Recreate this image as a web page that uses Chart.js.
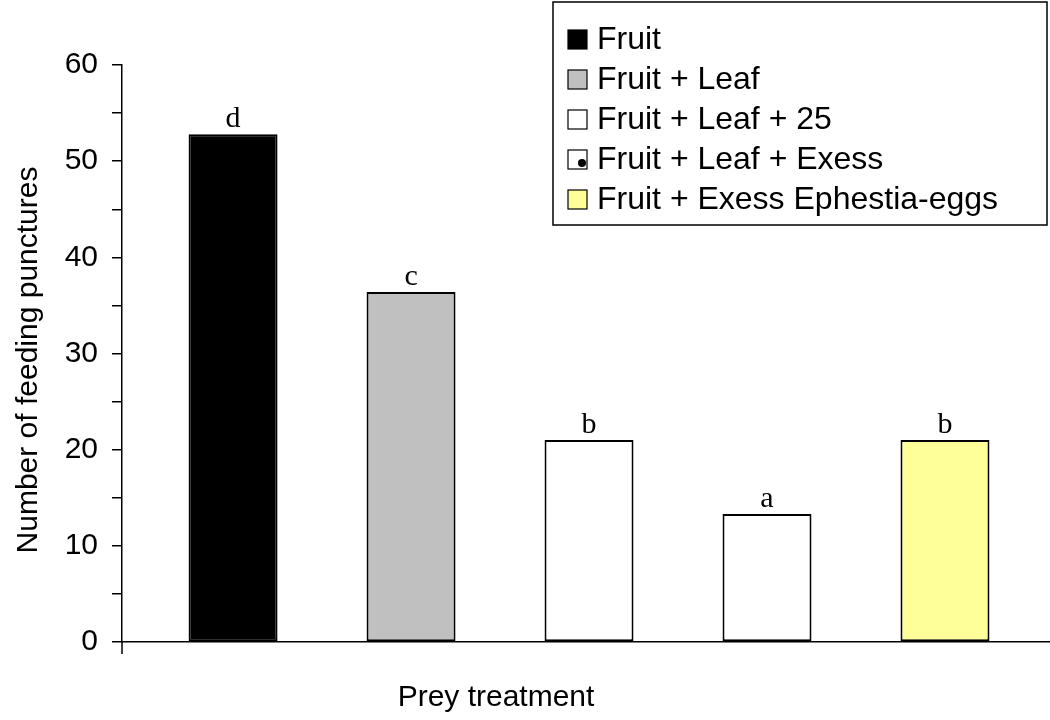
<!DOCTYPE html>
<html>
<head>
<meta charset="utf-8">
<script src="https://cdn.jsdelivr.net/npm/chart.js@4/dist/chart.umd.min.js"></script>
<style>
html,body{margin:0;padding:0;background:#fff;}
#wrap{width:1050px;height:720px;position:relative;}
</style>
</head>
<body>
<div id="wrap"><canvas id="c" width="1050" height="720"></canvas></div>
<script>
const categories = ["Fruit", "Fruit + Leaf", "Fruit + Leaf + 25", "Fruit + Leaf + Exess", "Fruit + Exess Ephestia-eggs"];
const values = [52.8, 36.4, 21.0, 13.3, 21.0];
const letters = ["d", "c", "b", "a", "b"];
const yTicks = [0, 10, 20, 30, 40, 50, 60];
const xTitle = "Prey treatment";
const yTitle = "Number of feeding punctures";

const fills = ["#000000", "#c0c0c0", "#ffffff", "#ffffff", "#ffff99"];
const SANS = "'Liberation Sans', Arial, sans-serif";
const SERIF = "'Liberation Serif', 'Times New Roman', serif";

const overlay = {
  id: 'overlay',
  afterDraw(chart) {
    const ctx = chart.ctx;
    const area = chart.chartArea;
    const meta = chart.getDatasetMeta(0);
    ctx.save();
    // y-axis extension below x axis
    ctx.strokeStyle = '#000';
    ctx.lineWidth = 1.5;
    ctx.beginPath();
    ctx.moveTo(area.left, area.bottom);
    ctx.lineTo(area.left, area.bottom + 12);
    ctx.stroke();
    // letters above bars
    ctx.fillStyle = '#000';
    ctx.font = '30px ' + SERIF;
    ctx.textAlign = 'center';
    ctx.textBaseline = 'alphabetic';
    meta.data.forEach((bar, i) => {
      ctx.fillText(letters[i], bar.x, bar.y - 7);
    });
    // axis titles
    ctx.font = '30px ' + SANS;
    ctx.textBaseline = 'middle';
    ctx.fillText(xTitle, 496, 698);
    ctx.save();
    ctx.translate(29, 360);
    ctx.rotate(-Math.PI / 2);
    ctx.fillText(yTitle, 0, 0);
    ctx.restore();
    // legend box
    const bx = 553, by = 2, bw = 494, bh = 223;
    ctx.fillStyle = '#fff';
    ctx.fillRect(bx, by, bw, bh);
    ctx.strokeStyle = '#000';
    ctx.lineWidth = 1.5;
    ctx.strokeRect(bx, by, bw, bh);
    ctx.textAlign = 'left';
    ctx.font = '32px ' + SANS;
    categories.forEach((lab, i) => {
      const cy = 39 + i * 40;
      ctx.fillStyle = fills[i];
      ctx.fillRect(568, cy - 9, 19, 19);
      ctx.lineWidth = 1.2;
      ctx.strokeStyle = '#000';
      ctx.strokeRect(568, cy - 9, 19, 19);
      if (i === 3) {
        ctx.fillStyle = '#000';
        ctx.beginPath();
        ctx.arc(582, cy + 4, 4, 0, Math.PI * 2);
        ctx.fill();
      }
      ctx.fillStyle = '#000';
      ctx.fillText(lab, 597, cy + 1);
    });
    ctx.restore();
  }
};

new Chart(document.getElementById('c'), {
  type: 'bar',
  data: {
    datasets: [{
      data: values.map((v, i) => ({ x: i, y: v })),
      backgroundColor: fills,
      borderColor: '#000',
      borderWidth: 2,
      borderSkipped: false,
      categoryPercentage: 1,
      barPercentage: 0.5
    }]
  },
  options: {
    responsive: false,
    animation: false,
    devicePixelRatio: 1,
    layout: { padding: { top: 65, right: 0, bottom: 0, left: 0 } },
    plugins: { legend: { display: false }, tooltip: { enabled: false } },
    scales: {
      x: {
        type: 'linear',
        offset: false,
        min: -0.624,
        max: 4.59,
        afterBuildTicks(scale) {
          scale.ticks = categories.map((c, i) => ({ value: i }));
        },
        ticks: { display: false },
        grid: { display: false },
        border: { display: true, color: '#000', width: 1.5 },
        afterFit(scale) { scale.height = 78; }
      },
      y: {
        min: 0,
        max: 60,
        afterBuildTicks(scale) {
          const t = [];
          for (let v = 0; v <= 60; v += 5) t.push({ value: v });
          scale.ticks = t;
        },
        ticks: {
          color: '#000',
          font: { family: SANS, size: 30 },
          padding: 14,
          callback: (v) => yTicks.includes(v) ? String(v) : ''
        },
        grid: { drawOnChartArea: false, drawTicks: true, tickLength: 10, color: '#000', lineWidth: 1.5 },
        border: { display: true, color: '#000', width: 1.5 },
        afterFit(scale) { scale.width = 122; }
      }
    }
  },
  plugins: [overlay]
});
</script>
</body>
</html>
